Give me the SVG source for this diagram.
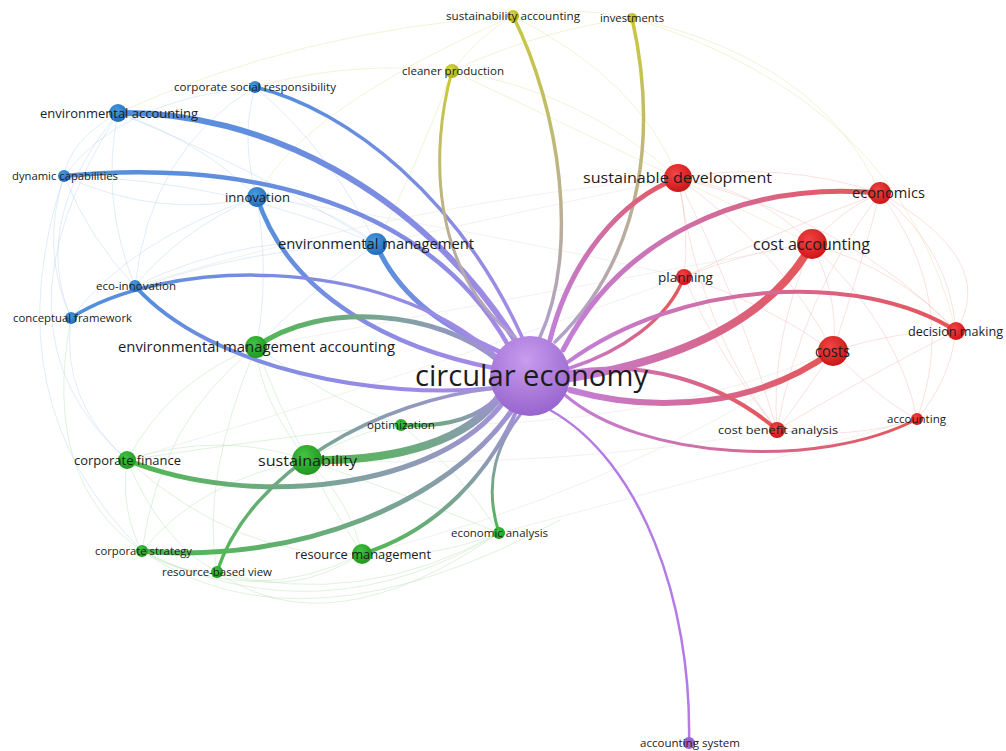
<svg xmlns="http://www.w3.org/2000/svg" width="1006" height="751" viewBox="0 0 1006 751">
<defs>
<style>
.lbl{font-family:"Open Sans","Liberation Sans",sans-serif;fill:#1c1c1c;text-anchor:middle}
.fb{fill:none;stroke:#a9c9ec;stroke-width:1;opacity:.35}
.fg{fill:none;stroke:#b0deb0;stroke-width:1;opacity:.4}
.fr{fill:none;stroke:#f3b3b3;stroke-width:1;opacity:.4}
.fy{fill:none;stroke:#e2e2a6;stroke-width:1;opacity:.45}
.fx{fill:none;stroke:#e3e3dc;stroke-width:1;opacity:.5}
.e{fill:none;stroke-linecap:round}
</style>
<linearGradient id="gB" x1="0" y1="0" x2="1" y2="1"><stop offset="0" stop-color="#4f8fdc"/><stop offset="1" stop-color="#a88ae6"/></linearGradient>
<linearGradient id="gB2" x1="0" y1="0" x2="1" y2="0"><stop offset="0" stop-color="#4f8fdc"/><stop offset="1" stop-color="#a88ae6"/></linearGradient>
<linearGradient id="gG" x1="0" y1="1" x2="1" y2="0"><stop offset="0" stop-color="#4fb84f"/><stop offset="1" stop-color="#a391d8"/></linearGradient>
<linearGradient id="gG2" x1="0" y1="0" x2="1" y2="0"><stop offset="0" stop-color="#4fb84f"/><stop offset="1" stop-color="#a391d8"/></linearGradient>
<linearGradient id="gG3" x1="0" y1="1" x2="0" y2="0"><stop offset="0" stop-color="#4fb84f"/><stop offset="1" stop-color="#a391d8"/></linearGradient>
<linearGradient id="gR" x1="0" y1="0" x2="1" y2="0"><stop offset="0" stop-color="#c27fd8"/><stop offset="1" stop-color="#e65555"/></linearGradient>
<linearGradient id="gY" x1="0" y1="0" x2="0" y2="1"><stop offset="0" stop-color="#c9c93c"/><stop offset="1" stop-color="#b09fcc"/></linearGradient>
<radialGradient id="nB" cx=".4" cy=".35" r=".7"><stop offset="0" stop-color="#4b9ae2"/><stop offset="1" stop-color="#1e69b6"/></radialGradient>
<radialGradient id="nR" cx=".4" cy=".35" r=".7"><stop offset="0" stop-color="#f24545"/><stop offset="1" stop-color="#c81414"/></radialGradient>
<radialGradient id="nG" cx=".4" cy=".35" r=".7"><stop offset="0" stop-color="#43c443"/><stop offset="1" stop-color="#1c951c"/></radialGradient>
<radialGradient id="nY" cx=".4" cy=".35" r=".7"><stop offset="0" stop-color="#dada44"/><stop offset="1" stop-color="#aaaa1c"/></radialGradient>
<radialGradient id="nP" cx=".45" cy=".3" r=".75"><stop offset="0" stop-color="#c89cee"/><stop offset="1" stop-color="#9461cc"/></radialGradient>
</defs>
<rect width="1006" height="751" fill="#ffffff"/>
<g id="connectors">
<g id="faint">
<path class="fb" d="M118,113 Q70,140 64,176"/>
<path class="fb" d="M118,113 Q200,140 257,197"/>
<path class="fb" d="M118,113 Q30,220 71,318"/>
<path class="fb" d="M118,113 Q100,200 135,286"/>
<path class="fb" d="M255,87 Q120,100 64,176"/>
<path class="fb" d="M255,87 Q240,140 257,197"/>
<path class="fb" d="M255,87 Q330,150 376,244"/>
<path class="fb" d="M255,87 Q150,150 135,286"/>
<path class="fb" d="M64,176 Q160,220 257,197"/>
<path class="fb" d="M64,176 Q40,250 71,318"/>
<path class="fb" d="M64,176 Q90,240 135,286"/>
<path class="fb" d="M257,197 Q320,200 376,244"/>
<path class="fb" d="M257,197 Q180,230 135,286"/>
<path class="fb" d="M257,197 Q130,240 71,318"/>
<path class="fb" d="M376,244 Q250,230 135,286"/>
<path class="fb" d="M376,244 Q200,250 71,318"/>
<path class="fb" d="M64,176 Q230,180 376,244"/>
<path class="fb" d="M118,113 Q260,170 376,244"/>
<path class="fb" d="M71,318 Q60,400 127,460"/>
<path class="fb" d="M64,176 Q-10,400 142,551"/>
<path class="fb" d="M118,113 Q-20,330 127,460"/>
<path class="fb" d="M376,244 Q300,300 256,347"/>
<path class="fb" d="M257,197 Q270,280 256,347"/>
<path class="fg" d="M127,460 Q220,430 307,460"/>
<path class="fg" d="M127,460 Q120,510 142,551"/>
<path class="fg" d="M127,460 Q160,540 217,572"/>
<path class="fg" d="M127,460 Q240,560 362,554"/>
<path class="fg" d="M127,460 Q170,380 256,347"/>
<path class="fg" d="M307,460 Q200,480 142,551"/>
<path class="fg" d="M307,460 Q350,500 362,554"/>
<path class="fg" d="M307,460 Q420,500 499,533"/>
<path class="fg" d="M307,460 Q260,400 256,347"/>
<path class="fg" d="M307,460 Q360,430 401,425"/>
<path class="fg" d="M142,551 Q180,575 217,572"/>
<path class="fg" d="M142,551 Q250,610 362,554"/>
<path class="fg" d="M217,572 Q290,600 362,554"/>
<path class="fg" d="M217,572 Q360,610 499,533"/>
<path class="fg" d="M362,554 Q430,560 499,533"/>
<path class="fg" d="M256,347 Q330,400 401,425"/>
<path class="fg" d="M256,347 Q300,460 362,554"/>
<path class="fg" d="M142,551 Q320,640 499,533"/>
<path class="fg" d="M401,425 Q460,470 499,533"/>
<path class="fg" d="M256,347 Q160,420 142,551"/>
<path class="fg" d="M256,347 Q200,480 217,572"/>
<path class="fg" d="M71,318 Q40,480 142,551"/>
<path class="fg" d="M127,460 Q330,430 401,425"/>
<path class="fg" d="M217,572 Q330,650 499,533"/>
<path class="fg" d="M142,551 Q300,660 560,520"/>
<path class="fr" d="M678,178 Q780,160 880,193"/>
<path class="fr" d="M678,178 Q760,190 812,244"/>
<path class="fr" d="M678,178 Q690,230 684,277"/>
<path class="fr" d="M678,178 Q780,250 833,351"/>
<path class="fr" d="M678,178 Q740,300 777,430"/>
<path class="fr" d="M678,178 Q850,220 956,331"/>
<path class="fr" d="M880,193 Q840,210 812,244"/>
<path class="fr" d="M880,193 Q860,270 833,351"/>
<path class="fr" d="M880,193 Q950,250 956,331"/>
<path class="fr" d="M880,193 Q960,300 917,419"/>
<path class="fr" d="M880,193 Q780,230 684,277"/>
<path class="fr" d="M880,193 Q800,300 777,430"/>
<path class="fr" d="M812,244 Q840,300 833,351"/>
<path class="fr" d="M812,244 Q900,270 956,331"/>
<path class="fr" d="M812,244 Q770,340 777,430"/>
<path class="fr" d="M812,244 Q900,330 917,419"/>
<path class="fr" d="M812,244 Q750,250 684,277"/>
<path class="fr" d="M833,351 Q900,330 956,331"/>
<path class="fr" d="M833,351 Q800,400 777,430"/>
<path class="fr" d="M833,351 Q880,400 917,419"/>
<path class="fr" d="M956,331 Q950,380 917,419"/>
<path class="fr" d="M777,430 Q850,440 917,419"/>
<path class="fr" d="M684,277 Q720,360 777,430"/>
<path class="fr" d="M684,277 Q760,300 833,351"/>
<path class="fr" d="M956,331 Q860,380 777,430"/>
<path class="fr" d="M678,178 Q700,330 777,430"/>
<path class="fr" d="M880,193 Q1000,260 956,331"/>
<path class="fy" d="M513,16 Q570,5 632,18"/>
<path class="fy" d="M513,16 Q480,35 452,71"/>
<path class="fy" d="M632,18 Q540,30 452,71"/>
<path class="fy" d="M513,16 Q300,30 118,113"/>
<path class="fy" d="M632,18 Q820,60 880,193"/>
<path class="fy" d="M452,71 Q580,90 678,178"/>
<path class="fy" d="M452,71 Q350,60 255,87"/>
<path class="fy" d="M513,16 Q640,80 678,178"/>
<path class="fy" d="M632,18 Q900,100 956,331"/>
<path class="fy" d="M452,71 Q420,160 376,244"/>
<path class="fy" d="M452,71 Q600,140 812,244"/>
<path class="fy" d="M513,16 Q300,110 257,197"/>
<path class="fx" d="M376,244 Q530,210 678,178"/>
<path class="fx" d="M257,197 Q480,230 684,277"/>
<path class="fx" d="M256,347 Q500,300 812,244"/>
<path class="fx" d="M307,460 Q560,470 777,430"/>
<path class="fx" d="M362,554 Q600,500 833,351"/>
<path class="fx" d="M499,533 Q700,480 917,419"/>
<path class="fx" d="M401,425 Q650,430 833,351"/>
<path class="fx" d="M127,460 Q400,380 684,277"/>
<path class="fx" d="M135,286 Q420,200 678,178"/>
</g>
<g id="edges">
<path class="e" stroke="url(#gB)" stroke-width="6" d="M118,113 C260,110 420,190 515,340"/>
<path class="e" stroke="url(#gB)" stroke-width="3.5" d="M255,87 C350,110 460,200 522,337"/>
<path class="e" stroke="url(#gB)" stroke-width="4.5" d="M64,176 C220,160 420,190 508,345"/>
<path class="e" stroke="url(#gB)" stroke-width="4.5" d="M257,197 C290,300 400,350 494,368"/>
<path class="e" stroke="url(#gB)" stroke-width="5" d="M376,244 C400,300 450,330 500,352"/>
<path class="e" stroke="url(#gB2)" stroke-width="3.5" d="M71,318 C160,260 380,250 497,357"/>
<path class="e" stroke="url(#gB)" stroke-width="4" d="M135,286 C210,370 380,400 494,388"/>
<path class="e" stroke="url(#gG2)" stroke-width="5" d="M256,347 C320,300 440,310 500,362"/>
<path class="e" stroke="url(#gG2)" stroke-width="5" d="M127,460 C250,510 440,490 505,400"/>
<path class="e" stroke="url(#gG)" stroke-width="8" d="M307,460 C400,462 470,440 502,393"/>
<path class="e" stroke="url(#gG2)" stroke-width="4" d="M401,425 C450,428 480,415 497,398"/>
<path class="e" stroke="url(#gG)" stroke-width="5" d="M142,551 C300,565 450,500 512,410"/>
<path class="e" stroke="url(#gG)" stroke-width="3.5" d="M217,572 C250,470 380,400 496,388"/>
<path class="e" stroke="url(#gG)" stroke-width="4" d="M362,554 C440,530 490,470 516,412"/>
<path class="e" stroke="url(#gG3)" stroke-width="3" d="M499,533 C482,480 500,440 520,415"/>
<path class="e" stroke="#b47be6" stroke-width="2.5" d="M689,743 C692,600 640,460 550,410"/>
<path class="e" stroke="url(#gY)" stroke-width="3.5" d="M513,16 C560,110 580,250 540,337"/>
<path class="e" stroke="url(#gY)" stroke-width="3.5" d="M632,18 C655,120 650,250 555,342"/>
<path class="e" stroke="url(#gY)" stroke-width="3" d="M452,71 C430,150 430,270 515,337"/>
<path class="e" stroke="url(#gR)" stroke-width="5" d="M550,340 C570,260 620,200 678,178"/>
<path class="e" stroke="url(#gR)" stroke-width="5" d="M563,350 C620,240 740,180 880,193"/>
<path class="e" stroke="url(#gR)" stroke-width="8" d="M570,378 C680,360 770,320 812,244"/>
<path class="e" stroke="url(#gR)" stroke-width="3.5" d="M570,368 C620,352 668,320 684,277"/>
<path class="e" stroke="url(#gR)" stroke-width="4" d="M568,362 C680,280 860,270 956,331"/>
<path class="e" stroke="url(#gR)" stroke-width="6" d="M570,390 C660,415 760,405 833,351"/>
<path class="e" stroke="url(#gR)" stroke-width="4" d="M570,372 C640,360 720,380 777,430"/>
<path class="e" stroke="url(#gR)" stroke-width="3" d="M565,395 C640,460 820,470 917,419"/>
</g>
</g>
<g id="n-sustainability-accounting"><circle cx="513" cy="16" r="6" fill="url(#nY)"/><text class="lbl" x="513" y="20" font-size="11" textLength="134" lengthAdjust="spacingAndGlyphs">sustainability accounting</text></g>
<g id="n-investments"><circle cx="632" cy="18" r="5" fill="url(#nY)"/><text class="lbl" x="632" y="22" font-size="11" textLength="64" lengthAdjust="spacingAndGlyphs">investments</text></g>
<g id="n-cleaner-production"><circle cx="452" cy="71" r="7" fill="url(#nY)"/><text class="lbl" x="453" y="75" font-size="11" textLength="102" lengthAdjust="spacingAndGlyphs">cleaner production</text></g>
<g id="n-corporate-social-responsibility"><circle cx="255" cy="87" r="6" fill="url(#nB)"/><text class="lbl" x="255" y="91" font-size="10.5" textLength="162" lengthAdjust="spacingAndGlyphs">corporate social responsibility</text></g>
<g id="n-environmental-accounting"><circle cx="118" cy="113" r="9" fill="url(#nB)"/><text class="lbl" x="119" y="117.5" font-size="13" textLength="158" lengthAdjust="spacingAndGlyphs">environmental accounting</text></g>
<g id="n-dynamic-capabilities"><circle cx="64" cy="176" r="6" fill="url(#nB)"/><text class="lbl" x="65" y="180" font-size="10.5" textLength="106" lengthAdjust="spacingAndGlyphs">dynamic capabilities</text></g>
<g id="n-innovation"><circle cx="257" cy="197" r="10" fill="url(#nB)"/><text class="lbl" x="257.5" y="202" font-size="13.5" textLength="65" lengthAdjust="spacingAndGlyphs">innovation</text></g>
<g id="n-environmental-management"><circle cx="376" cy="244" r="11" fill="url(#nB)"/><text class="lbl" x="376" y="249" font-size="14" textLength="196" lengthAdjust="spacingAndGlyphs">environmental management</text></g>
<g id="n-eco-innovation"><circle cx="135" cy="286" r="6" fill="url(#nB)"/><text class="lbl" x="136" y="290" font-size="11" textLength="80" lengthAdjust="spacingAndGlyphs">eco-innovation</text></g>
<g id="n-conceptual-framework"><circle cx="71" cy="318" r="6" fill="url(#nB)"/><text class="lbl" x="72.5" y="322" font-size="11" textLength="119" lengthAdjust="spacingAndGlyphs">conceptual framework</text></g>
<g id="n-environmental-management-accounting"><circle cx="256" cy="347" r="11" fill="url(#nG)"/><text class="lbl" x="256.5" y="352" font-size="14" textLength="277" lengthAdjust="spacingAndGlyphs">environmental management accounting</text></g>
<g id="n-sustainable-development"><circle cx="678" cy="178" r="14" fill="url(#nR)"/><text class="lbl" x="677.5" y="183" font-size="15" textLength="189" lengthAdjust="spacingAndGlyphs">sustainable development</text></g>
<g id="n-economics"><circle cx="880" cy="193" r="11" fill="url(#nR)"/><text class="lbl" x="888.5" y="198" font-size="14" textLength="73" lengthAdjust="spacingAndGlyphs">economics</text></g>
<g id="n-cost-accounting"><circle cx="812" cy="244" r="15" fill="url(#nR)"/><text class="lbl" x="811.5" y="249.5" font-size="15.5" textLength="117" lengthAdjust="spacingAndGlyphs">cost accounting</text></g>
<g id="n-planning"><circle cx="684" cy="277" r="8" fill="url(#nR)"/><text class="lbl" x="685.5" y="281.5" font-size="12.5" textLength="55" lengthAdjust="spacingAndGlyphs">planning</text></g>
<g id="n-decision-making"><circle cx="956" cy="331" r="9" fill="url(#nR)"/><text class="lbl" x="955.5" y="335.5" font-size="12.5" textLength="95" lengthAdjust="spacingAndGlyphs">decision making</text></g>
<g id="n-costs"><circle cx="833" cy="351" r="15" fill="url(#nR)"/><text class="lbl" x="832.5" y="357" font-size="16" textLength="35" lengthAdjust="spacingAndGlyphs">costs</text></g>
<g id="n-cost-benefit-analysis"><circle cx="777" cy="430" r="8" fill="url(#nR)"/><text class="lbl" x="778" y="434" font-size="11.5" textLength="120" lengthAdjust="spacingAndGlyphs">cost benefit analysis</text></g>
<g id="n-accounting"><circle cx="917" cy="419" r="6" fill="url(#nR)"/><text class="lbl" x="916.5" y="423" font-size="11" textLength="59" lengthAdjust="spacingAndGlyphs">accounting</text></g>
<g id="n-optimization"><circle cx="401" cy="425" r="6" fill="url(#nG)"/><text class="lbl" x="401" y="429" font-size="11" textLength="68" lengthAdjust="spacingAndGlyphs">optimization</text></g>
<g id="n-corporate-finance"><circle cx="127" cy="460" r="9" fill="url(#nG)"/><text class="lbl" x="127.5" y="464.5" font-size="12.5" textLength="107" lengthAdjust="spacingAndGlyphs">corporate finance</text></g>
<g id="n-sustainability"><circle cx="307" cy="460" r="15" fill="url(#nG)"/><text class="lbl" x="307.5" y="465.5" font-size="15" textLength="99" lengthAdjust="spacingAndGlyphs">sustainability</text></g>
<g id="n-economic-analysis"><circle cx="499" cy="533" r="6" fill="url(#nG)"/><text class="lbl" x="499.5" y="537" font-size="11" textLength="97" lengthAdjust="spacingAndGlyphs">economic analysis</text></g>
<g id="n-corporate-strategy"><circle cx="142" cy="551" r="6" fill="url(#nG)"/><text class="lbl" x="143.5" y="555" font-size="10.5" textLength="97" lengthAdjust="spacingAndGlyphs">corporate strategy</text></g>
<g id="n-resource-management"><circle cx="362" cy="554" r="10" fill="url(#nG)"/><text class="lbl" x="363" y="559" font-size="13" textLength="136" lengthAdjust="spacingAndGlyphs">resource management</text></g>
<g id="n-resource-based-view"><circle cx="217" cy="572" r="6" fill="url(#nG)"/><text class="lbl" x="217" y="576" font-size="11" textLength="110" lengthAdjust="spacingAndGlyphs">resource-based view</text></g>
<g id="n-accounting-system"><circle cx="689" cy="743" r="6" fill="#9a62d2"/><text class="lbl" x="690" y="747" font-size="11" textLength="100" lengthAdjust="spacingAndGlyphs">accounting system</text></g>
<g id="n-circular-economy"><circle cx="530" cy="376" r="40" fill="url(#nP)"/><text class="lbl" x="531.5" y="386" font-size="29" textLength="233" lengthAdjust="spacingAndGlyphs">circular economy</text></g>
</svg>
